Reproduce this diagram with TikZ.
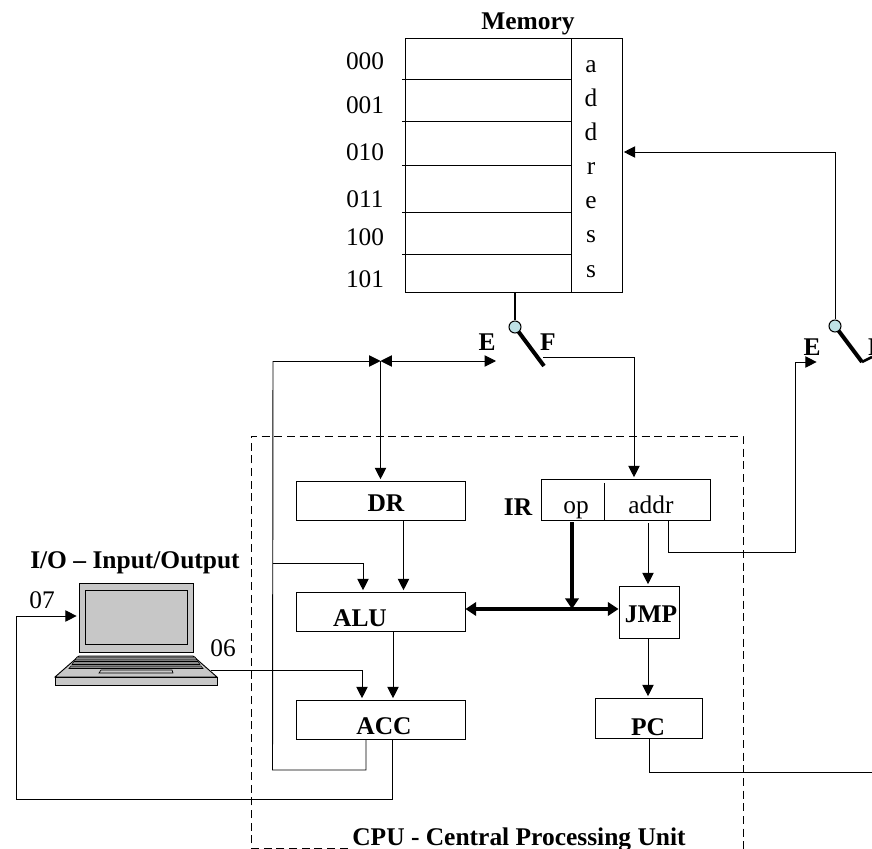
\documentclass[tikz,border=0pt]{standalone}
\usepackage{fontspec}
\setmainfont{Liberation Serif}
\usetikzlibrary{arrows.meta,positioning}
\definecolor{pivotblue}{RGB}{190,225,230}
\def\unitpx{0.75pt}

\begin{document}
\begin{tikzpicture}[x=0.75pt,y=-0.75pt,
  box/.style 2 args={draw, line width=0.7pt, inner sep=0pt, fill=white, minimum width=#1*\unitpx, minimum height=#2*\unitpx},
  txt/.style={anchor=base, inner sep=0pt, font=\fontsize{19}{20}\selectfont},
  btxt/.style={txt, font=\fontsize{19.1}{20}\selectfont\bfseries},
  wire/.style={line width=0.7pt},
  arr/.style={wire, -{Triangle[length=8.5pt,width=8.5pt]}, shorten >=1pt},
  darr/.style={wire, {Triangle[length=8.5pt,width=8.5pt]}-{Triangle[length=8.5pt,width=8.5pt]}},
  bus/.style={line width=3.4pt, -{Triangle[length=8pt,width=10pt]}},
  dbus/.style={line width=2.4pt, {Triangle[length=8pt,width=10pt]}-{Triangle[length=8pt,width=10pt]}},
  lever/.style={line width=3pt},
  pivot/.style={circle, draw, line width=0.8pt, fill=pivotblue, inner sep=0pt, minimum size=9pt},
  lapfill/.style={draw, line width=0.7pt, fill=black!22}]
\clip (0,0) rectangle (872,849);
\fill[white] (0,0) rectangle (872,849);
% cpu frame
\draw[wire, dash pattern=on 6pt off 3.5pt] (487,848) -- (251,848) -- (251,436) -- (743,436) -- (743,849);
% memory
\node[box={217}{254}] (mem) at (513.5,165) {};
\node[btxt] (memtitle) at (528,30) {Memory};
\draw[wire] (571,39) -- (571,293);
\foreach \y in {79,121,165,212,254}
  \draw[wire] (402,\y) -- (571,\y);
\foreach \t/\y in {000/70,001/114,010/161,011/207,100/245,101/287}
  \node[txt] at (365,\y) {\t};
\foreach \t/\y in {a/73,d/107,d/141,r/175,e/209,s/243,s/277}
  \node[txt] at (591,\y) {\t};
% switches
\node[btxt] (e1) at (487,350) {E};
\node[btxt] (f1) at (548,350) {F};
\coordinate (lev1) at (544,366);
\draw[lever] (515,327) -- (lev1);
\node[pivot] (sw1) at (515,327) {};
\draw[line width=1.2pt] (sw1) -- (mem.south -| sw1);
\node[btxt] (e2) at (812,355) {E};
\node[btxt] (f2) at (876,355) {F};
\coordinate (lev2) at (862,362);
\draw[lever] (835,326) -- (lev2);
\node[pivot] (sw2) at (835,326) {};
\draw[lever, line width=2pt] (lev2) -- (872,357);
% registers
\node[box={169}{39}] (dr) at (380.5,500.5) {};
\node[btxt] (drtext) at (386,511) {DR};
\node[box={169}{41}] (ir) at (625.5,499.5) {};
\draw[wire] (604,483) -- (604,0 |- ir.south);
\node[btxt] (irtext) at (518,515) {IR};
\node[txt] (optext) at (576,513) {op};
\node[txt] (addrtext) at (651,513) {addr};
\node[box={169}{39}] (alu) at (380.5,611.5) {};
\node[btxt] (alutext) at (360,626) {ALU};
\node[box={60}{52}] (jmp) at (649,612) {};
\node[btxt] (jmptext) at (651,622) {JMP};
\node[box={169}{39}] (acc) at (380.5,719.5) {};
\node[btxt] (acctext) at (384,734) {ACC};
\node[box={107}{40}] (pc) at (648.5,718) {};
\node[btxt] (pctext) at (648,735) {PC};
% laptop
\node[inner sep=0pt, minimum width=162*\unitpx, minimum height=102*\unitpx] (laptop) at (136,634) {};
\draw[lapfill] (79,583) rectangle (193,652);
\draw[lapfill] (85,590) rectangle (187,644);
\draw[lapfill] (79,656) -- (193,656) -- (217,677) -- (55,677) -- cycle;
\draw[lapfill] (55,677) rectangle (217,685);
\draw[lapfill, fill=black!45, line width=0.4pt] (77,657) -- (195,657) -- (197,660) -- (75,660) -- cycle;
\draw[lapfill, fill=black!45, line width=0.4pt] (74,661.5) -- (198,661.5) -- (200,664.5) -- (72,664.5) -- cycle;
\draw[lapfill, fill=black!45, line width=0.4pt] (71,666) -- (201,666) -- (203,668.5) -- (69,668.5) -- cycle;
\draw[lapfill, line width=0.5pt] (101,670) -- (172,670) -- (173,673) -- (99,673) -- cycle;
\node[btxt] (iotitle) at (135,568) {I/O -- Input/Output};
\node[txt] (in07) at (42,608) {07};
\node[txt] (out06) at (223,656) {06};
\coordinate (lapin) at (78,616);
\coordinate (lapout) at (211,670);
% title
\node[btxt, fill=white, inner sep=0pt, anchor=base] (cputitle) at (519,845) {CPU - Central Processing Unit};
% wires
\coordinate (junc) at (380.5,361);
\coordinate (busin) at (273,361);
\draw[wire, -{Triangle[length=8.5pt,width=8.5pt]}] (busin) -- (junc);
\draw[darr] (junc) -- (496,361);
\draw[arr] (junc) -- (dr.north -| junc);
\draw[wire] (acc.south -| 366,0) -- (366,770) -- (272.5,770) -- (busin);
\draw[arr] (272.5,563) -- (363,563) -- (alu.north -| 363,0);
\draw[arr] (403.5,0 |- dr.south) -- (403.5,0 |- alu.north);
\draw[arr] (393,0 |- alu.south) -- (393,0 |- acc.north);
\draw[arr] (lapout) -- (362,670) -- (362,0 |- acc.north);
\draw[arr] (392.5,0 |- acc.south) -- (392.5,799) -- (16,799) -- (16,616) -- (lapin);
\draw[arr] (543,357) -- (634,357) -- (634,0 |- ir.north);
\draw[bus] (572,522) -- (572,609);
\draw[dbus] (alu.east |- 0,609) -- (jmp.west |- 0,609);
\draw[arr] (648,523) -- (648,0 |- jmp.north);
\draw[arr] (648,0 |- jmp.south) -- (648,0 |- pc.north);
\draw[arr] (668,0 |- ir.south) -- (668,552) -- (795,552) -- (795,362) -- (818,362);
\draw[wire] (649,0 |- pc.south) -- (649,772) -- (872,772);
\draw[arr] (sw2) -- (835,152) -- (mem.east |- 0,152);
\end{tikzpicture}
\end{document}
